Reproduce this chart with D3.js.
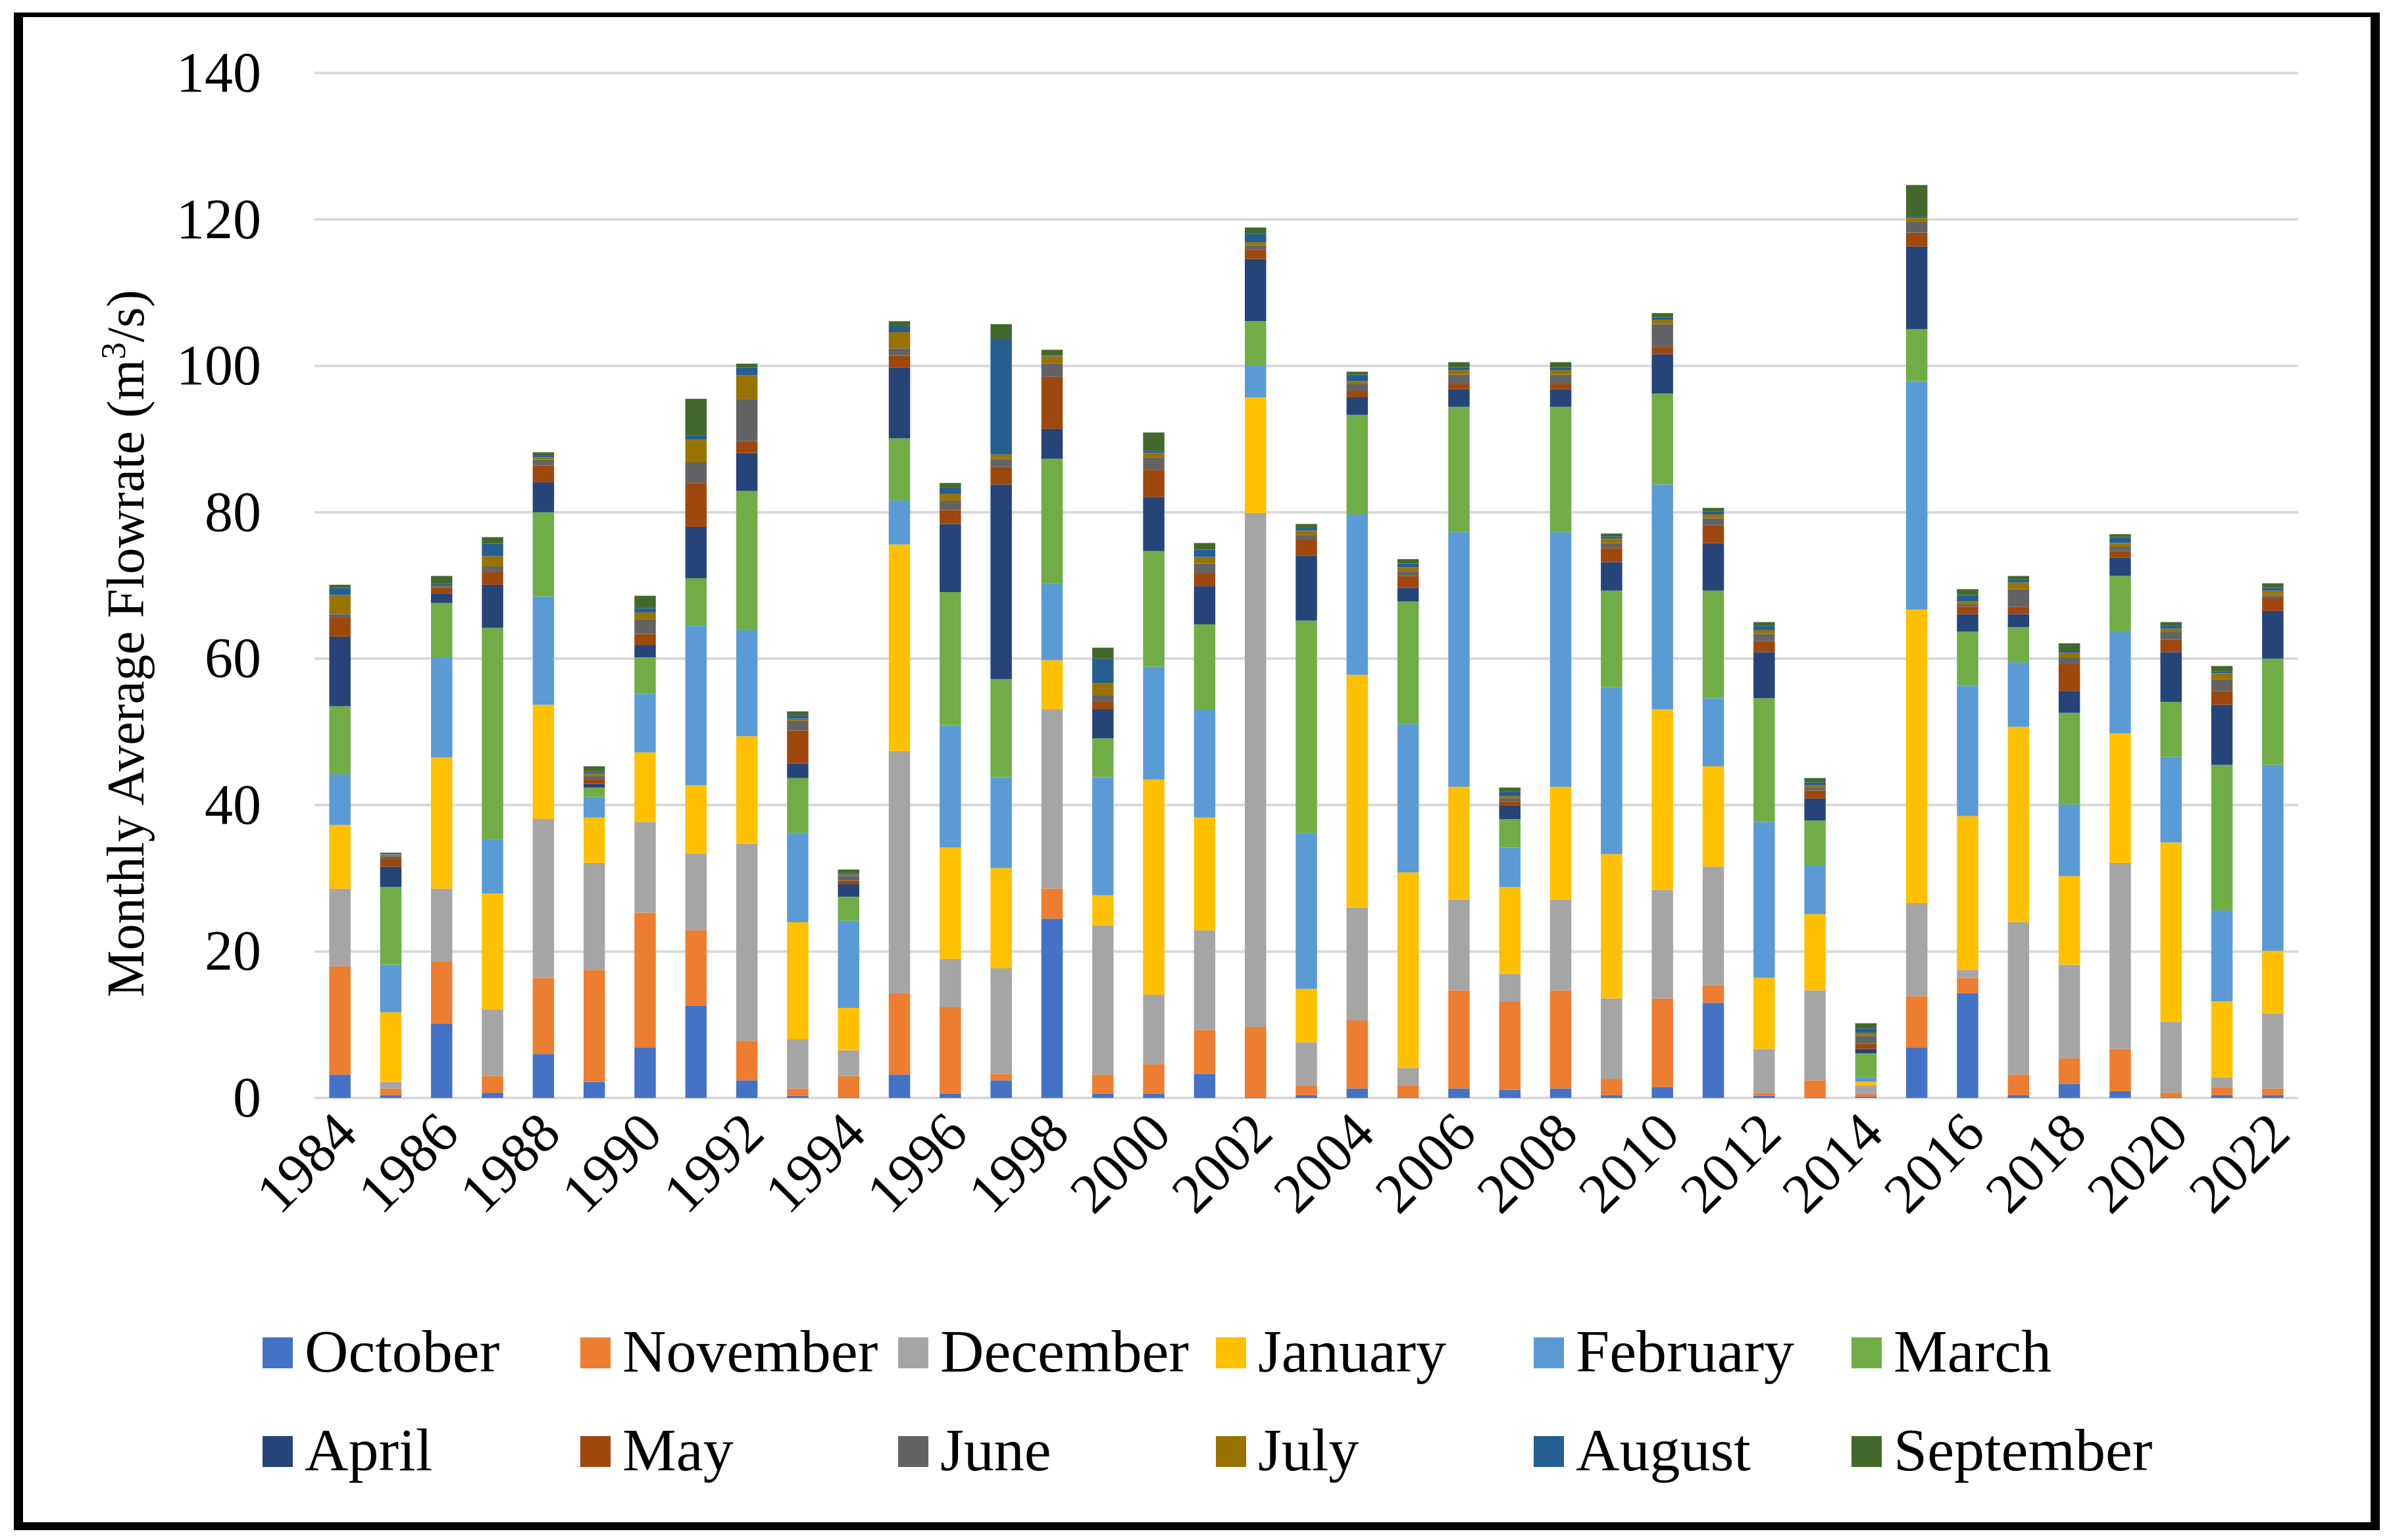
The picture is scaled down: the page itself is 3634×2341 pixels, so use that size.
<!DOCTYPE html>
<html>
<head>
<meta charset="utf-8">
<script src="https://cdn.jsdelivr.net/npm/d3@7"></script>
<style>
  html, body { margin: 0; padding: 0; background: #fff; }
  svg { display: block; }
  text { font-family: "Liberation Serif", "Times New Roman", serif; fill: #000; }
</style>
</head>
<body>
<div id="chart"></div>
<script>
const years = d3.range(1984, 2023);
const months = ["October", "November", "December", "January", "February", "March",
  "April", "May", "June", "July", "August", "September"];
const colors = ["#4472C4", "#ED7D31", "#A5A5A5", "#FFC000", "#5B9BD5", "#70AD47",
  "#264478", "#9E480E", "#636363", "#997300", "#255E91", "#43682B"];
const yTicks = [0, 20, 40, 60, 80, 100, 120, 140];

// monthly flow per water year, 1984 to 2022
const october = [3.2,0.4,10.2,0.7,6.0,2.2,6.9,12.6,2.4,0.3,0.1,3.2,0.6,2.4,24.5,0.6,0.6,3.3,0.1,0.4,1.3,0.1,1.3,1.1,1.3,0.4,1.5,13.0,0.3,0.1,0.2,6.9,14.3,0.4,1.9,0.9,0.1,0.4,0.4];
const november = [14.8,0.9,8.4,2.3,10.4,15.3,18.4,10.3,5.4,1.0,2.9,11.1,11.8,0.9,4.1,2.6,4.0,6.0,9.6,1.3,9.3,1.6,13.4,12.1,13.4,2.2,12.1,2.4,0.4,2.3,0.4,7.0,2.1,2.8,3.5,5.8,0.6,1.1,0.9];
const december = [10.6,0.9,10.0,9.1,21.7,14.6,12.4,10.5,26.9,6.7,3.5,33.1,6.6,14.4,24.5,20.4,9.5,13.6,70.2,5.9,15.4,2.4,12.4,3.7,12.4,11.0,14.8,16.2,6.0,12.3,1.1,12.7,1.1,20.8,12.8,25.4,9.7,1.3,10.2];
const january = [8.7,9.5,17.9,15.8,15.6,6.2,9.5,9.3,14.7,16.0,5.8,28.2,15.2,13.7,6.7,4.1,29.4,15.4,15.8,7.3,31.8,26.7,15.4,11.9,15.4,19.7,24.7,13.7,9.7,10.4,0.5,40.1,21.0,26.7,12.1,17.7,24.5,10.4,8.6];
const february = [6.9,6.5,13.7,7.4,14.8,2.8,8.0,21.8,14.5,12.2,11.9,6.0,16.7,12.4,10.4,16.1,15.4,14.8,4.4,21.3,21.9,20.3,34.8,5.4,34.8,22.8,30.7,9.3,21.3,6.7,0.6,31.2,17.8,8.8,9.8,13.9,11.7,12.4,25.4];
const march = [9.3,10.6,7.4,28.9,11.5,1.3,5.0,6.5,19.0,7.5,3.3,8.5,18.2,13.4,17.1,5.3,15.8,11.6,6.0,29.0,13.6,16.7,17.1,3.9,17.1,13.2,12.4,14.7,16.9,6.1,3.3,7.1,7.4,4.8,12.5,7.6,7.5,19.9,14.5];
const april = [9.5,2.8,1.3,5.9,4.1,0.5,1.7,7.0,5.2,2.0,1.7,9.7,9.3,26.6,4.1,4.0,7.4,5.2,8.5,8.9,2.4,1.9,2.4,1.8,2.4,3.9,5.4,6.5,6.3,3.0,0.6,11.3,2.4,1.8,3.0,2.5,6.8,8.2,6.5];
const may = [2.6,1.1,0.8,1.7,2.3,0.6,1.5,6.0,1.6,4.5,0.5,1.6,1.9,2.4,7.1,1.0,3.7,1.8,1.3,2.1,0.9,1.6,0.7,0.6,0.7,1.9,1.0,2.4,1.5,1.1,0.7,1.9,1.0,1.0,3.7,0.9,1.7,1.9,1.9];
const june = [0.5,0.3,0.2,0.8,0.8,0.5,2.0,2.8,5.8,1.3,0.6,1.0,1.3,1.1,1.8,0.9,1.7,1.3,0.6,0.7,0.9,0.6,1.3,0.4,1.3,0.7,3.1,1.0,1.0,0.4,1.1,1.5,0.3,2.4,0.9,0.6,1.1,1.6,0.3];
const july = [2.6,0.2,0.1,1.4,0.3,0.4,0.9,3.1,3.2,0.3,0.2,2.2,0.9,0.6,1.0,1.7,0.6,0.9,0.4,0.6,0.4,0.6,0.6,0.3,0.6,0.6,0.6,0.5,0.5,0.3,0.4,0.5,0.4,0.9,0.6,0.5,0.4,0.8,0.6];
const august = [1.0,0.1,0.2,1.7,0.2,0.2,0.6,0.6,1.1,0.4,0.2,0.8,0.9,15.8,0.1,3.3,0.3,1.0,1.1,0.4,0.9,0.5,0.4,0.6,0.4,0.3,0.3,0.4,0.6,0.4,0.6,0.2,0.9,0.4,0.3,0.8,0.4,0.3,0.4];
const september = [0.4,0.2,1.1,0.9,0.5,0.7,1.7,5.0,0.5,0.6,0.5,0.7,0.6,2.0,0.8,1.5,2.5,0.9,0.9,0.5,0.4,0.6,0.7,0.6,0.7,0.4,0.6,0.5,0.5,0.6,0.7,4.3,0.8,0.5,1.0,0.4,0.5,0.7,0.6];

const series = [october, november, december, january, february, march,
  april, may, june, july, august, september];

const table = years.map((yr, i) => {
  const row = { year: yr };
  months.forEach((m, j) => { row[m] = series[j][i]; });
  return row;
});

const width = 3634, height = 2341;
const margin = { top: 111, right: 141, bottom: 672, left: 478 };

const svg = d3.select("#chart").append("svg")
  .attr("width", width)
  .attr("height", height);

// frame: thick left/right/bottom, thin top
svg.append("rect").attr("x", 21).attr("y", 19).attr("width", 3596).attr("height", 2307).attr("fill", "#000");
svg.append("rect").attr("x", 35).attr("y", 26).attr("width", 3568).attr("height", 2288).attr("fill", "#fff");

const x = d3.scaleBand()
  .domain(years)
  .range([margin.left, width - margin.right])
  .paddingInner(0.58)
  .paddingOuter(0.29);

const y = d3.scaleLinear()
  .domain([0, 140])
  .range([height - margin.bottom, margin.top]);

// gridlines
svg.append("g")
  .selectAll("line")
  .data(yTicks)
  .join("line")
  .attr("x1", margin.left)
  .attr("x2", width - margin.right)
  .attr("y1", d => y(d))
  .attr("y2", d => y(d))
  .attr("stroke", "#d9d9d9")
  .attr("stroke-width", 4);

const stack = d3.stack().keys(months);
const layers = stack(table);

svg.append("g")
  .selectAll("g")
  .data(layers)
  .join("g")
  .attr("fill", (d, i) => colors[i])
  .selectAll("rect")
  .data(d => d)
  .join("rect")
  .attr("x", d => x(d.data.year))
  .attr("width", x.bandwidth())
  .attr("y", d => y(d[1]))
  .attr("height", d => y(d[0]) - y(d[1]));

// y axis labels
const yAxis = svg.append("g")
  .attr("transform", `translate(${margin.left},0)`)
  .call(d3.axisLeft(y).tickValues(yTicks).tickSize(0).tickPadding(81));
yAxis.select(".domain").remove();
yAxis.selectAll("text")
  .style("font-family", "'Liberation Serif', 'Times New Roman', serif")
  .style("font-size", "86px")
  .attr("fill", "#000");

// x axis labels, every other year, rotated
const xAxis = svg.append("g")
  .attr("transform", `translate(0,${y(0)})`)
  .call(d3.axisBottom(x).tickValues(years.filter(d => d % 2 === 0)).tickSize(0).tickPadding(0));
xAxis.select(".domain").remove();
xAxis.selectAll("text")
  .style("font-family", "'Liberation Serif', 'Times New Roman', serif")
  .style("font-size", "86px")
  .attr("fill", "#000")
  .attr("text-anchor", "end")
  .attr("dy", null)
  .attr("y", 0)
  .attr("transform", "translate(30,58) rotate(-45)");

// y axis title
const title = svg.append("text")
  .attr("transform", "translate(218,978) rotate(-90)")
  .attr("text-anchor", "middle")
  .style("font-size", "80px");
title.append("tspan").text("Monthly Average Flowrate (m");
title.append("tspan").text("3").attr("baseline-shift", "super").style("font-size", "52px");
title.append("tspan").text("/s)");

// legend
const legend = svg.append("g")
  .selectAll("g")
  .data(months)
  .join("g")
  .attr("transform", (d, i) => `translate(${399 + (i % 6) * 483},${2033 + Math.floor(i / 6) * 150})`);
legend.append("rect")
  .attr("width", 46)
  .attr("height", 47)
  .attr("fill", (d, i) => colors[i]);
legend.append("text")
  .attr("x", 64)
  .attr("y", 52)
  .style("font-size", "92px")
  .text(d => d);
</script>
</body>
</html>
